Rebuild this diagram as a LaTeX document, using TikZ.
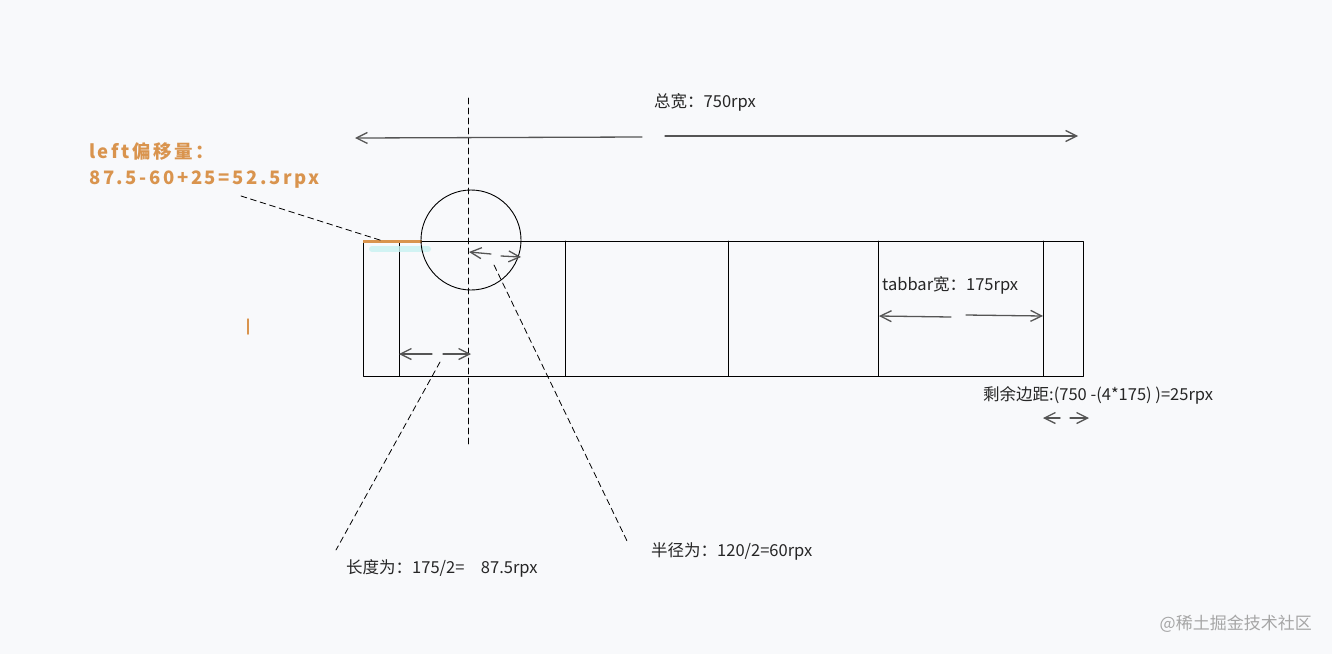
\documentclass[tikz,border=0pt]{standalone}
\usepackage{fontspec}
\setmainfont{Noto Sans CJK SC}
\newfontfamily\notefont[LetterSpace=14]{Noto Sans CJK SC}
\usetikzlibrary{arrows.meta}
\definecolor{bgc}{HTML}{F8F9FB}
\definecolor{notec}{HTML}{D9944E}
\definecolor{arrc}{HTML}{555555}
\definecolor{glow}{HTML}{C8F2F2}
\tikzset{
  dim/.style={->, draw=arrc, line width=1.3pt},
  lead/.style={dash pattern=on 6pt off 4pt, line width=0.8pt},
  txt/.style={anchor=west, inner sep=0pt, text=black!85}
}
\begin{document}
\begin{tikzpicture}[x=1pt, y=-1pt, >={Straight Barb[length=11pt,width=11pt]}, line join=round, line cap=round, font=\fontsize{16.5}{19}\selectfont]
\fill [bgc] (0,0) rectangle (1332,654);
% tabbar
\draw [line width=0.9pt] (363,241) rectangle (1083,376);
\foreach \x in {399,565,728,878,1043} \draw [line width=0.9pt] (\x,241) -- (\x,376);
\draw [glow, line width=6pt, opacity=0.8] (372,249) -- (428,249);
\draw [notec, line width=3pt, line cap=butt] (363,241) -- (422,241);
\draw [notec, line width=1.5pt] (248,319) -- (248,334);
% circle and axis
\coordinate (c) at (471,240);
\draw [line width=0.9pt] (c) circle (50);
\coordinate (axt) at (468,98); \coordinate (axb) at (468,445);
\draw [lead] (axt) -- (axb);
% texts
\node [txt] (total) at (654,102) {总宽：750rpx};
\node [txt, text=notec, font=\notefont\bfseries\fontsize{18.5}{20}\selectfont] (off1) at (89,152) {left偏移量：};
\node [txt, text=notec, font=\notefont\bfseries\fontsize{18.5}{20}\selectfont] (off2) at (89,180) {87.5-60+25=52.5rpx};
\node [txt] (tab) at (882,285) {tabbar宽：175rpx};
\node [txt] (rest) at (983,395) {剩余边距:(750 -(4*175) )=25rpx};
\node [txt] (half) at (346,568) {长度为：175/2=\quad 87.5rpx};
\node [txt] (rad) at (651,551) {半径为：120/2=60rpx};
\node [anchor=east, inner sep=0pt, text=black!35, font=\fontsize{17}{19}\selectfont] (mark) at (1312,624) {@稀土掘金技术社区};
% dimension arrows
\coordinate (t1) at (642,137); \coordinate (t2) at (355,138);
\coordinate (t3) at (665,136); \coordinate (t4) at (1078,136);
\draw [dim] (t1) -- (t2);
\draw [dim] (t3) -- (t4);
\coordinate (r1) at (491,254); \coordinate (r2) at (469,252);
\coordinate (r3) at (501,256); \coordinate (r4) at (521,257);
\draw [dim] (r1) -- (r2);
\draw [dim] (r3) -- (r4);
\coordinate (h1) at (432,354); \coordinate (h2) at (399,354);
\coordinate (h3) at (443,354); \coordinate (h4) at (471,354);
\draw [dim] (h1) -- (h2);
\draw [dim] (h3) -- (h4);
\coordinate (w1) at (951,317); \coordinate (w2) at (879,316);
\coordinate (w3) at (966,315); \coordinate (w4) at (1043,316);
\draw [dim] (w1) -- (w2);
\draw [dim] (w3) -- (w4);
\coordinate (m1) at (1060,418); \coordinate (m2) at (1043,418);
\coordinate (m3) at (1070,418); \coordinate (m4) at (1089,418);
\draw [dim] (m1) -- (m2);
\draw [dim] (m3) -- (m4);
% leader lines
\coordinate (e) at (383,241);
\draw [lead] (241,196) coordinate (o) -- (e);
\coordinate (hl) at (440,362);
\draw [lead] (hl) -- (336,550) coordinate (hb);
\coordinate (rl) at (494,265);
\draw [lead] (rl) -- (628,543) coordinate (rb);
\end{tikzpicture}
\end{document}
